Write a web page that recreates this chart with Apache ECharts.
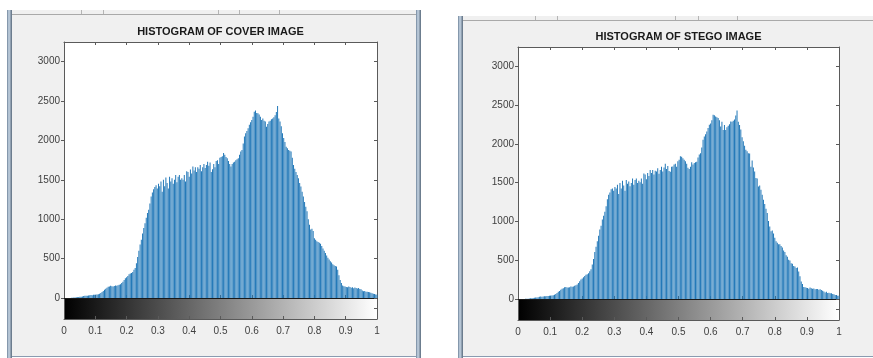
<!DOCTYPE html>
<html>
<head>
<meta charset="utf-8">
<script src="https://cdn.jsdelivr.net/npm/echarts@6/dist/echarts.min.js"></script>
<style>
  html, body { margin: 0; padding: 0; background: #ffffff; }
  #main { width: 873px; height: 358px; }
</style>
</head>
<body>
<div id="main"></div>
<script>
// 256-bin histograms (imhist), counts
const coverCounts = [
  0, 0, 0, 0, 0, 0, 2, 3, 5, 6, 9, 11, 12, 15, 17, 20,
  24, 28, 30, 27, 33, 35, 38, 36, 41, 42, 45, 43, 48, 55, 62, 75,
  90, 105, 118, 130, 142, 147, 155, 150, 146, 152, 160, 155, 163, 168, 175, 190,
  205, 230, 250, 265, 280, 300, 310, 317, 330, 360, 380, 440, 520, 600, 680, 740,
  820, 890, 950, 1020, 1080, 1120, 1200, 1290, 1340, 1380, 1410, 1430, 1390, 1450, 1420, 1480,
  1350, 1500, 1420, 1530, 1460, 1390, 1540, 1480, 1520, 1450, 1500, 1560, 1470, 1540, 1560, 1500,
  1520, 1500, 1560, 1480, 1610, 1600, 1540, 1630, 1580, 1670, 1620, 1660, 1600, 1660, 1640, 1690,
  1610, 1660, 1700, 1650, 1690, 1730, 1680, 1720, 1600, 1635, 1700, 1660, 1740, 1750, 1700, 1780,
  1790, 1800, 1840, 1820, 1790, 1775, 1740, 1700, 1670, 1700, 1720, 1730, 1750, 1760, 1775, 1820,
  1860, 1880, 1960, 2050, 2090, 2120, 2155, 2200, 2230, 2260, 2300, 2365, 2380, 2350, 2345, 2330,
  2300, 2260, 2280, 2250, 2240, 2175, 2210, 2240, 2250, 2270, 2280, 2295, 2320, 2360, 2437, 2280,
  2240, 2180, 2090, 2030, 1980, 1920, 1900, 1880, 1870, 1860, 1780, 1690, 1640, 1600, 1560, 1520,
  1460, 1415, 1350, 1290, 1220, 1160, 1100, 1000, 930, 870, 880, 850, 760, 740, 720, 710,
  700, 690, 660, 630, 600, 570, 540, 510, 490, 465, 450, 430, 415, 405, 400, 360,
  290, 230, 190, 160, 150, 147, 140, 135, 145, 140, 130, 138, 125, 132, 128, 120,
  127, 115, 110, 95, 85, 90, 80, 78, 75, 72, 68, 60, 55, 50, 45, 40
];
const stegoCounts = [
  0, 0, 0, 0, 0, 0, 2, 3, 4, 7, 9, 10, 13, 15, 18, 20,
  23, 28, 31, 28, 32, 36, 37, 38, 40, 43, 44, 45, 47, 56, 63, 76,
  92, 104, 120, 131, 140, 150, 154, 148, 147, 150, 162, 157, 160, 170, 176, 188,
  207, 228, 252, 263, 282, 298, 312, 318, 332, 358, 385, 445, 515, 605, 675, 745,
  815, 895, 945, 1025, 1075, 1125, 1195, 1285, 1345, 1375, 1415, 1425, 1395, 1445, 1425, 1475,
  1355, 1495, 1425, 1525, 1465, 1395, 1535, 1485, 1515, 1455, 1495, 1555, 1475, 1535, 1555, 1495,
  1525, 1505, 1555, 1485, 1620, 1605, 1545, 1625, 1585, 1665, 1625, 1665, 1605, 1655, 1645, 1685,
  1615, 1665, 1705, 1645, 1695, 1745, 1675, 1715, 1650, 1640, 1705, 1710, 1735, 1745, 1705, 1775,
  1795, 1840, 1835, 1815, 1795, 1778, 1745, 1692, 1675, 1705, 1765, 1735, 1755, 1765, 1770, 1825,
  1865, 1881, 1955, 2053, 2095, 2125, 2160, 2205, 2246, 2265, 2305, 2375, 2370, 2353, 2345, 2335,
  2305, 2224, 2285, 2181, 2245, 2180, 2215, 2235, 2255, 2289, 2285, 2300, 2315, 2365, 2431, 2285,
  2245, 2185, 2085, 2035, 1975, 1924, 1905, 1881, 1875, 1707, 1785, 1695, 1645, 1559, 1555, 1452,
  1465, 1410, 1345, 1280, 1225, 1165, 1108, 1005, 936, 875, 885, 845, 790, 745, 725, 705,
  705, 685, 665, 625, 605, 565, 545, 505, 495, 460, 455, 425, 420, 400, 405, 355,
  295, 225, 195, 155, 152, 145, 142, 133, 147, 138, 132, 136, 127, 130, 130, 118,
  125, 117, 108, 97, 83, 92, 78, 80, 73, 74, 66, 62, 53, 52, 43, 42
];
const xTicks = [0, 0.1, 0.2, 0.3, 0.4, 0.5, 0.6, 0.7, 0.8, 0.9, 1];
const yTicks = [0, 500, 1000, 1500, 2000, 2500, 3000];
const panels = [
  { title: 'HISTOGRAM OF COVER IMAGE', counts: coverCounts, left: 64, width: 313, top: 42, height: 256, titleTop: 26 },
  { title: 'HISTOGRAM OF STEGO IMAGE', counts: stegoCounts, left: 518, width: 321, top: 47, height: 252, titleTop: 31 }
];

const font = "'Liberation Sans', Arial, sans-serif";
const axisColor = '#5a5a5a';
const labelColor = '#404040';
const yMax = 3250;
const cbarHeight = 21;

const myChart = echarts.init(document.getElementById('main'));

const grid = [], xAxis = [], yAxis = [], series = [], title = [];

const tick = (inside) => ({ show: true, inside, length: 3, lineStyle: { color: axisColor } });
const line = (color) => ({ show: true, onZero: false, lineStyle: { color, width: 1 } });

panels.forEach((p, k) => {
  const g = k * 2;
  // histogram axes
  grid.push({ left: p.left, top: p.top, width: p.width, height: p.height, show: true, backgroundColor: '#ffffff', borderWidth: 0 });
  // grey colour bar under it
  grid.push({
    left: p.left, top: p.top + p.height, width: p.width, height: cbarHeight, show: true, borderWidth: 0,
    backgroundColor: new echarts.graphic.LinearGradient(0, 0, 1, 0, [
      { offset: 0, color: '#000000' },
      { offset: 1, color: '#ffffff' }
    ])
  });

  const xBase = {
    type: 'value', min: xTicks[0], max: xTicks[xTicks.length - 1], interval: 0.1,
    splitLine: { show: false },
    axisLine: line(axisColor),
    axisTick: tick(true),
    axisLabel: { show: false }
  };
  xAxis.push(Object.assign({}, xBase, { gridIndex: g, position: 'bottom', axisLine: line('#1a1a1a') }));
  xAxis.push(Object.assign({}, xBase, { gridIndex: g, position: 'top' }));
  xAxis.push(Object.assign({}, xBase, {
    gridIndex: g + 1, position: 'bottom',
    axisLabel: {
      show: true, color: labelColor, fontSize: 10, fontFamily: font, margin: 7,
      formatter: v => (xTicks.indexOf(Math.round(v * 10) / 10) >= 0 ? String(Math.round(v * 10) / 10) : '')
    }
  }));

  const yBase = {
    type: 'value', min: 0, max: yMax, interval: 500,
    splitLine: { show: false },
    axisLine: line(axisColor),
    axisTick: tick(true),
    axisLabel: { show: false }
  };
  yAxis.push(Object.assign({}, yBase, {
    gridIndex: g, position: 'left', axisTick: tick(false),
    axisLabel: {
      show: true, color: labelColor, fontSize: 10, fontFamily: font, margin: 4, showMaxLabel: false,
      formatter: v => (yTicks.indexOf(v) >= 0 ? String(v) : '')
    }
  }));
  yAxis.push(Object.assign({}, yBase, { gridIndex: g, position: 'right' }));
  const cbY = {
    type: 'value', min: 0, max: 2, interval: 1,
    splitLine: { show: false },
    axisLine: line(axisColor),
    axisLabel: { show: false }
  };
  yAxis.push(Object.assign({}, cbY, { gridIndex: g + 1, position: 'left', axisTick: { show: false } }));
  yAxis.push(Object.assign({}, cbY, { gridIndex: g + 1, position: 'right', axisTick: tick(true) }));

  series.push({
    type: 'bar',
    xAxisIndex: k * 3,
    yAxisIndex: k * 4,
    barWidth: 0.8,
    itemStyle: { color: '#2278b8' },
    data: p.counts.map((c, i) => [i / (p.counts.length - 1), c])
  });

  title.push({
    text: p.title,
    left: p.left + p.width / 2,
    top: p.titleTop,
    textAlign: 'center',
    padding: 0,
    textStyle: { fontSize: 11, fontWeight: 'bold', color: '#1a1a1a', fontFamily: font }
  });
});

// window frames of the two screenshots
const frame = (x, y, w, h) => ({
  type: 'rect', shape: { x, y, width: w, height: h }, z: -10,
  style: {
    fill: new echarts.graphic.LinearGradient(0, 0, 1, 0, [
      { offset: 0, color: '#6f8399' }, { offset: 0.4, color: '#c8d7e6' }, { offset: 1, color: '#5a6b7d' }
    ])
  }
});
const sep = (x, y) => ({ type: 'line', shape: { x1: x + 0.5, y1: y, x2: x + 0.5, y2: y + 4 }, z: -5, style: { stroke: '#b5b5b5', lineWidth: 1 } });
const graphic = [
  { type: 'rect', shape: { x: 12, y: 10, width: 404, height: 346 }, z: -20, style: { fill: '#f0f0f0' } },
  { type: 'line', shape: { x1: 12, y1: 14.5, x2: 416, y2: 14.5 }, z: -5, style: { stroke: '#a9a9a9', lineWidth: 1 } },
  { type: 'line', shape: { x1: 12, y1: 356.5, x2: 416, y2: 356.5 }, z: -5, style: { stroke: '#8a9bb0', lineWidth: 1 } },
  sep(81, 10), sep(103, 10), sep(218, 10), sep(239, 10), sep(279, 10),
  frame(7, 10, 5, 348),
  frame(416, 10, 5, 348),
  { type: 'rect', shape: { x: 463, y: 16, width: 410, height: 340 }, z: -20, style: { fill: '#f0f0f0' } },
  { type: 'line', shape: { x1: 463, y1: 20.5, x2: 873, y2: 20.5 }, z: -5, style: { stroke: '#a9a9a9', lineWidth: 1 } },
  { type: 'line', shape: { x1: 463, y1: 356.5, x2: 873, y2: 356.5 }, z: -5, style: { stroke: '#8a9bb0', lineWidth: 1 } },
  sep(535, 16), sep(557, 16), sep(675, 16), sep(698, 16), sep(737, 16),
  frame(458, 16, 5, 342)
];

const option = {
  backgroundColor: '#ffffff',
  animation: false,
  title,
  grid,
  xAxis,
  yAxis,
  series,
  graphic
};

myChart.setOption(option);
window.addEventListener('resize', () => myChart.resize());
</script>
</body>
</html>
